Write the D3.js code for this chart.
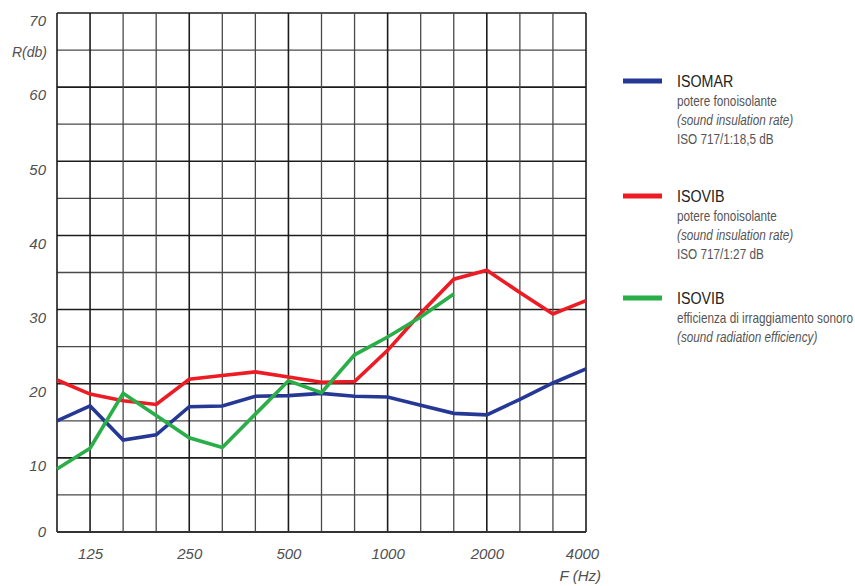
<!DOCTYPE html>
<html><head><meta charset="utf-8">
<script src="https://cdn.jsdelivr.net/npm/d3@7"></script>
<style>
body{margin:0;background:#fff;}
svg{display:block;}
.ytick text,.xtick text{font-family:"Liberation Sans",Arial,sans-serif;font-style:italic;fill:#505050;}
</style></head>
<body><svg id="c" width="855" height="586"></svg>
<script>
const freqs = [100,125,160,200,250,315,400,500,630,800,1000,1250,1600,2000,2500,3150,4000];
const xLabels = [125,250,500,1000,2000,4000];
const yTicks = [0,10,20,30,40,50,60,70];
const isomar = [15.0,17.0,12.4,13.1,16.9,17.0,18.3,18.4,18.7,18.3,18.2,17.1,16.0,15.8,17.9,20.1,22.0];
const isovib = [20.5,18.6,17.7,17.2,20.6,21.1,21.6,20.9,20.2,20.3,24.5,29.5,34.1,35.3,32.3,29.4,31.2];
const radiation = [8.5,11.3,18.7,15.7,12.7,11.4,15.9,20.4,18.8,23.9,26.3,29.0,32.1];
const seriesNames = ["ISOMAR","ISOVIB","ISOVIB"];
const seriesColors = ["#263896","#ed1c24","#2aae47"];
const legendLines = [
  ["potere fonoisolante","(sound insulation rate)","ISO 717/1:18,5 dB"],
  ["potere fonoisolante","(sound insulation rate)","ISO 717/1:27 dB"],
  ["efficienza di irraggiamento sonoro","(sound radiation efficiency)"]
];

const svg = d3.select("#c");
const L=57,R=586,T=13,B=532;
const x = d3.scalePoint().domain(freqs).range([L,R]);
const y = d3.scaleLinear().domain([0,70]).range([B,T]);

// grid
const g = svg.append("g");
g.selectAll("line.h").data(d3.range(0,71,5)).join("line")
  .attr("x1",L).attr("x2",R).attr("y1",d=>y(d)).attr("y2",d=>y(d))
  .attr("stroke",d=>d%10===0?"#1c1c1c":"#4a4a4a").attr("stroke-width",d=>d%10===0?1.6:1.3);
g.selectAll("line.v").data(freqs).join("line")
  .attr("y1",T).attr("y2",B).attr("x1",d=>x(d)).attr("x2",d=>x(d))
  .attr("stroke",d=>xLabels.includes(d)||d===100?"#1c1c1c":"#4a4a4a").attr("stroke-width",d=>xLabels.includes(d)||d===100?1.6:1.3);
g.append("line").attr("x1",L).attr("x2",R).attr("y1",B).attr("y2",B).attr("stroke","#333").attr("stroke-width",2.2);

// y axis labels
const ya = svg.append("g").attr("class","ytick").attr("transform",`translate(${L-11},0)`)
  .call(d3.axisLeft(y).tickValues(yTicks).tickSize(0).tickPadding(0));
ya.select(".domain").remove();
ya.selectAll("text").attr("font-size",15).attr("dy","0.32em")
  .attr("transform",d=>d===0?null:"translate(0,8)");
svg.append("text").attr("x",L-10).attr("y",y(65)+7).attr("text-anchor","end")
  .attr("font-family","Liberation Sans, Arial, sans-serif").attr("font-style","italic").attr("font-size",14).attr("fill","#505050").text("R(db)");

// x axis labels
const xa = svg.append("g").attr("class","xtick").attr("transform",`translate(0,${B+14})`)
  .call(d3.axisBottom(x).tickValues(xLabels).tickSize(0).tickPadding(0));
xa.select(".domain").remove();
xa.selectAll("text").attr("font-size",15).attr("dy","0.85em");
xa.selectAll(".tick").filter(d=>d===4000).select("text").attr("dx",-4);
svg.append("text").attr("x",R+15).attr("y",581).attr("text-anchor","end")
  .attr("font-family","Liberation Sans, Arial, sans-serif").attr("font-style","italic").attr("font-size",15).attr("fill","#505050").text("F (Hz)");

// lines
const line = d3.line().x((d,i)=>x(freqs[i])).y(d=>y(d));
[isomar,isovib,radiation].forEach((s,k)=>{
  svg.append("path").attr("d",line(s)).attr("fill","none")
    .attr("stroke",seriesColors[k]).attr("stroke-width",3.6).attr("stroke-linejoin","miter");
});

// legend
const legY = [81,196,298];
const lg = svg.append("g");
const sx = 0.84;
legY.forEach((ly,k)=>{
  lg.append("line").attr("x1",623).attr("x2",662).attr("y1",ly).attr("y2",ly)
    .attr("stroke",seriesColors[k]).attr("stroke-width",5);
  lg.append("text").attr("transform",`translate(677,${ly+6}) scale(${sx},1)`)
    .attr("font-family","Liberation Sans, Arial, sans-serif")
    .attr("font-size",17).attr("fill","#222").text(seriesNames[k]);
  legendLines[k].forEach((t,j)=>{
    lg.append("text").attr("transform",`translate(677,${ly+25+j*19}) scale(${sx},1)`)
      .attr("font-family","Liberation Sans, Arial, sans-serif")
      .attr("font-size",14).attr("fill","#555").attr("font-style",t.startsWith("(")?"italic":"normal").text(t);
  });
});
</script></body></html>
